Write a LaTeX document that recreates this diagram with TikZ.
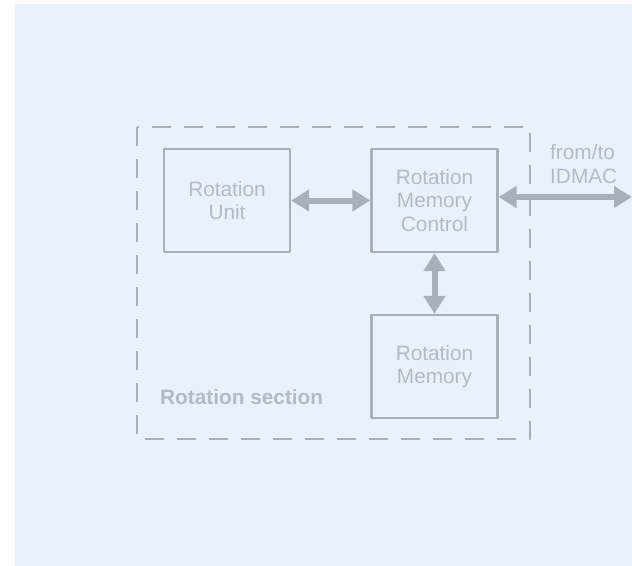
\documentclass[tikz,border=0pt]{standalone}
\usepackage{fontspec}
\setmainfont{Liberation Sans}
\usetikzlibrary{arrows.meta}
\definecolor{bgblue}{HTML}{E8F1FD}
\definecolor{linegray}{HTML}{A8B1BB}
\definecolor{textgray}{HTML}{B3BBC5}
\begin{document}
\begin{tikzpicture}[>={Triangle[width=21bp,length=18bp]},line join=bevel,
  block/.style={draw=linegray,line width=2.3bp,minimum width=126bp,minimum height=103bp,inner sep=0pt,align=center,text=textgray,font=\fontsize{20.8bp}{23.5bp}\selectfont},
  label/.style={inner sep=0pt,align=left,text=textgray,font=\fontsize{20.8bp}{23.5bp}\selectfont},
  link/.style={linegray,line width=6bp,<->},
  ]
%%
\useasboundingbox (0bp,0bp) rectangle (632bp,-566bp);
\fill [bgblue] (15bp,-4bp) rectangle (632bp,-566bp);
\draw [linegray,line width=2.8bp,dash pattern=on 19bp off 13bp] (137bp,-127bp) rectangle (530bp,-439bp);
%
\node (node_0) at (227bp,-200.5bp) [block] {Rotation\\Unit};
  \node (node_1) at (434.5bp,-200.5bp) [block] {Rotation\\Memory\\Control};
  \node (node_2) at (434.5bp,-366.5bp) [block] {Rotation\\Memory};
  \node (node_3) at (160bp,-397bp) [label,anchor=west,font=\fontsize{20.8bp}{23.5bp}\selectfont\bfseries] {Rotation section};
  \node (node_4) at (550bp,-164bp) [label,anchor=west] {from/to\\IDMAC};
  \coordinate (node_5) at (632bp,-197bp);
%
  \draw [link] (node_0) -- (node_1);
  \draw [link] (node_1) -- (node_2);
  \draw [link] (node_1.east |- node_5) -- (node_5);
%
\end{tikzpicture}
\end{document}
